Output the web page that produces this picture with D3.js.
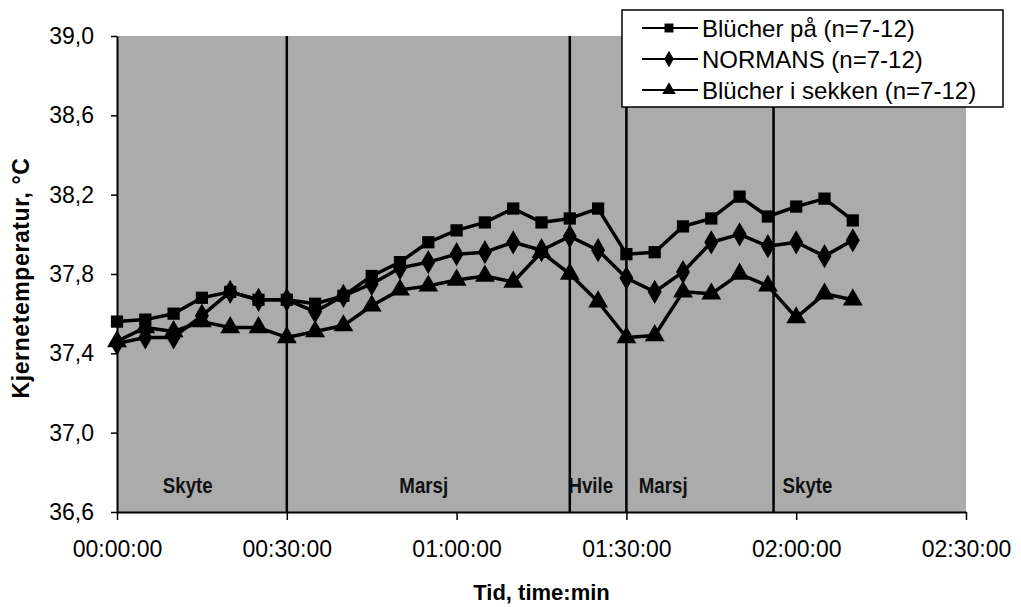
<!DOCTYPE html>
<html>
<head>
<meta charset="utf-8">
<script src="https://cdn.jsdelivr.net/npm/d3@7"></script>
<style>
  body { margin: 0; background: #fff; }
  svg { display: block; font-family: "Liberation Sans", Arial, sans-serif; }
</style>
</head>
<body>
<div id="chart"></div>
<script>
// Time in minutes from start
const times = [0, 5, 10, 15, 20, 25, 30, 35, 40, 45, 50, 55, 60, 65, 70, 75, 80, 85, 90, 95, 100, 105, 110, 115, 120, 125, 130];

// Core temperature per condition
const blucherPa = [37.56, 37.57, 37.60, 37.68, 37.71, 37.67, 37.67, 37.65, 37.69, 37.79, 37.86, 37.96, 38.02, 38.06, 38.13, 38.06, 38.08, 38.13, 37.90, 37.91, 38.04, 38.08, 38.19, 38.09, 38.14, 38.18, 38.07];
const normans = [37.45, 37.48, 37.48, 37.59, 37.71, 37.67, 37.67, 37.61, 37.69, 37.75, 37.83, 37.86, 37.90, 37.91, 37.96, 37.92, 37.99, 37.92, 37.78, 37.71, 37.81, 37.96, 38.00, 37.94, 37.96, 37.89, 37.97];
const blucherSekken = [37.46, 37.53, 37.51, 37.56, 37.53, 37.53, 37.48, 37.51, 37.54, 37.64, 37.72, 37.74, 37.77, 37.79, 37.76, 37.91, 37.80, 37.66, 37.48, 37.49, 37.71, 37.70, 37.80, 37.74, 37.58, 37.70, 37.67];

const seriesNames = ["Blücher på (n=7-12)", "NORMANS (n=7-12)", "Blücher i sekken (n=7-12)"];

// Phase boundaries (min) and phase labels
const phaseLines = [30, 80, 90, 116];
const phaseLabels = ["Skyte", "Marsj", "Hvile", "Marsj", "Skyte"];
const phaseLabelTimes = [12.5, 54.2, 83.7, 96.5, 122];

const xTicks = [0, 30, 60, 90, 120, 150];
const yTicks = [36.6, 37.0, 37.4, 37.8, 38.2, 38.6, 39.0];

const W = 1021, H = 607;
const margin = { top: 36, right: 55, bottom: 95, left: 117 };
const width = W - margin.left - margin.right;
const height = H - margin.top - margin.bottom;

const svg = d3.select("#chart").append("svg")
    .attr("width", W)
    .attr("height", H);

const g = svg.append("g")
    .attr("transform", `translate(${margin.left},${margin.top})`);

const x = d3.scaleLinear().domain([0, 150]).range([0, width]);
const y = d3.scaleLinear().domain([36.6, 39.0]).range([height, 0]);

// plot background
g.append("rect")
    .attr("width", width)
    .attr("height", height)
    .attr("fill", "#ababab");

// phase separators
g.selectAll(".phase")
    .data(phaseLines)
    .enter().append("line")
    .attr("x1", d => x(d)).attr("x2", d => x(d))
    .attr("y1", 0).attr("y2", height)
    .attr("stroke", "#000")
    .attr("stroke-width", 2.5);

// phase labels (condensed bold)
g.selectAll(".phaseLabel")
    .data(phaseLabels)
    .enter().append("text")
    .attr("transform", (d, i) => `translate(${x(phaseLabelTimes[i])},${y(36.6) - 19}) scale(0.85,1)`)
    .attr("text-anchor", "middle")
    .style("font-weight", "bold")
    .style("font-size", "22px")
    .style("fill", "#111")
    .text(d => d);

// axes
const fmtTime = m => {
    const hh = String(Math.floor(m / 60)).padStart(2, "0");
    const mm = String(m % 60).padStart(2, "0");
    return `${hh}:${mm}:00`;
};

const xAxis = g.append("g")
    .attr("transform", `translate(0,${height})`)
    .call(d3.axisBottom(x).tickValues(xTicks).tickFormat(fmtTime).tickSize(8).tickSizeOuter(0));
xAxis.select(".domain").attr("stroke-width", 2);
xAxis.selectAll(".tick line").attr("stroke-width", 1.5);
xAxis.selectAll("text")
    .attr("y", 29)
    .attr("dy", "0.71em")
    .style("font-size", "23px")
    .attr("fill", "#000");

const yAxis = g.append("g")
    .call(d3.axisLeft(y).tickValues(yTicks).tickFormat(d => d.toFixed(1).replace(".", ",")).tickSize(6).tickSizeOuter(0));
yAxis.select(".domain").attr("stroke-width", 2);
yAxis.selectAll(".tick line").attr("stroke-width", 1.5);
yAxis.selectAll("text")
    .attr("x", -23)
    .style("font-size", "23px")
    .attr("fill", "#000");

// axis titles
svg.append("text")
    .attr("transform", `translate(29,${margin.top + height / 2 + 4}) rotate(-90)`)
    .attr("text-anchor", "middle")
    .style("font-weight", "bold")
    .style("font-size", "23px")
    .style("letter-spacing", "0.6px")
    .text("Kjernetemperatur,  °C");

svg.append("text")
    .attr("x", margin.left + x(75))
    .attr("y", 600)
    .attr("text-anchor", "middle")
    .style("font-weight", "bold")
    .style("font-size", "22px")
    .text("Tid, time:min");

// series
const allSeries = [blucherPa, normans, blucherSekken];
const symbols = [d3.symbolSquare, d3.symbolDiamond, d3.symbolTriangle];
const symSizes = [150, 170, 170];

const line = d3.line()
    .x((d, i) => x(times[i]))
    .y(d => y(d));

allSeries.forEach((vals, s) => {
    g.append("path")
        .datum(vals)
        .attr("fill", "none")
        .attr("stroke", "#000")
        .attr("stroke-width", 3.5)
        .attr("stroke-linejoin", "round")
        .attr("d", line);

    g.selectAll(".m" + s)
        .data(vals)
        .enter().append("path")
        .attr("transform", (d, i) => `translate(${x(times[i])},${y(d)})`)
        .attr("d", d3.symbol().type(symbols[s]).size(symSizes[s]))
        .attr("fill", "#000");
});

// legend
const legend = svg.append("g").attr("transform", "translate(622,10)");
legend.append("rect")
    .attr("width", 381)
    .attr("height", 97)
    .attr("fill", "#fff")
    .attr("stroke", "#000")
    .attr("stroke-width", 1.5);

seriesNames.forEach((name, i) => {
    const row = legend.append("g").attr("transform", `translate(0,${18 + i * 31})`);
    row.append("line")
        .attr("x1", 20).attr("x2", 76)
        .attr("stroke", "#000").attr("stroke-width", 2);
    row.append("path")
        .attr("transform", "translate(47,0)")
        .attr("d", d3.symbol().type(symbols[i]).size(80))
        .attr("fill", "#000");
    row.append("text")
        .attr("x", 80)
        .attr("dy", "0.36em")
        .style("font-size", "24px")
        .text(name);
});
</script>
</body>
</html>
